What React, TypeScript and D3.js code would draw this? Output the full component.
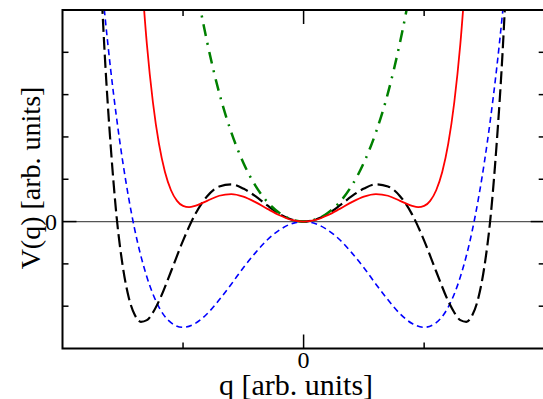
import React from "react";
import * as d3 from "d3";

// Potential curves (q in arb. units, V in arb. units)
const qBlack = [-1.7, -1.65, -1.6, -1.55, -1.5, -1.45, -1.4, -1.35, -1.3, -1.25, -1.2, -1.1, -1.0, -0.9, -0.8, -0.7, -0.6, -0.5, -0.4, -0.3, -0.2, -0.1, 0,
  0.1, 0.2, 0.3, 0.4, 0.5, 0.6, 0.7, 0.8, 0.9, 1.0, 1.1, 1.2, 1.25, 1.3, 1.35, 1.4, 1.45, 1.5, 1.55, 1.6, 1.65, 1.7];
const vBlack = [6.92, 3.97, 1.78, 0.08, -1.06, -1.8, -2.21, -2.37, -2.33, -2.15, -1.88, -1.18, -0.45, 0.17, 0.6, 0.83, 0.88, 0.78, 0.6, 0.38, 0.18, 0.05, 0,
  0.05, 0.18, 0.38, 0.6, 0.78, 0.88, 0.83, 0.6, 0.17, -0.45, -1.18, -1.88, -2.15, -2.33, -2.37, -2.21, -1.8, -1.06, 0.08, 1.78, 3.97, 6.92];

const qBlue = [-1.7, -1.65, -1.6, -1.55, -1.5, -1.45, -1.4, -1.3, -1.2, -1.1, -1.0, -0.9, -0.8, -0.7, -0.6, -0.5, -0.4, -0.3, -0.2, -0.1, 0,
  0.1, 0.2, 0.3, 0.4, 0.5, 0.6, 0.7, 0.8, 0.9, 1.0, 1.1, 1.2, 1.3, 1.4, 1.45, 1.5, 1.55, 1.6, 1.65, 1.7];
const vBlue = [6.43, 4.92, 3.58, 2.42, 1.41, 0.54, -0.2, -1.31, -2.02, -2.39, -2.5, -2.41, -2.18, -1.85, -1.48, -1.09, -0.74, -0.43, -0.2, -0.05, 0,
  -0.05, -0.2, -0.43, -0.74, -1.09, -1.48, -1.85, -2.18, -2.41, -2.5, -2.39, -2.02, -1.31, -0.2, 0.54, 1.41, 2.42, 3.58, 4.92, 6.43];

const qRed = [-1.35, -1.3, -1.25, -1.2, -1.15, -1.1, -1.05, -1.0, -0.95, -0.9, -0.8, -0.7, -0.6, -0.5, -0.4, -0.3, -0.2, -0.1, 0,
  0.1, 0.2, 0.3, 0.4, 0.5, 0.6, 0.7, 0.8, 0.9, 0.95, 1.0, 1.05, 1.1, 1.15, 1.2, 1.25, 1.3, 1.35];
const vRed = [6.05, 4.19, 2.82, 1.84, 1.17, 0.74, 0.49, 0.37, 0.34, 0.37, 0.49, 0.61, 0.65, 0.59, 0.46, 0.3, 0.15, 0.04, 0,
  0.04, 0.15, 0.3, 0.46, 0.59, 0.65, 0.61, 0.49, 0.37, 0.34, 0.37, 0.49, 0.74, 1.17, 1.84, 2.82, 4.19, 6.05];

const qGreen = [-0.95, -0.9, -0.85, -0.8, -0.7, -0.6, -0.5, -0.4, -0.3, -0.2, -0.1, 0,
  0.1, 0.2, 0.3, 0.4, 0.5, 0.6, 0.7, 0.8, 0.85, 0.9, 0.95];
const vGreen = [6.62, 5.74, 4.94, 4.24, 3.04, 2.11, 1.39, 0.85, 0.46, 0.2, 0.05, 0,
  0.05, 0.2, 0.46, 0.85, 1.39, 2.11, 3.04, 4.24, 4.94, 5.74, 6.62];

const xMinorTicks = [-1, 1];
const yMinorTicks = [-2, -1, 1, 2, 3, 4];
const xLabel = "q [arb. units]";
const yLabel = "V(q) [arb. units]";

const W = 543;
const H = 399;
const L = 62.5;
const R = 544.7;
const T = 10;
const B = 348.5;

const SERIF = "Liberation Serif";

export default function App() {
  const x = d3.scaleLinear().domain([-2, 2]).range([L, R]);
  const y = d3.scaleLinear().domain([-3, 5]).range([B, T]);

  const mk = (qs: number[], vs: number[]) =>
    d3
      .line<number>()
      .x((_, i) => x(qs[i]))
      .y((v) => y(v))
      .curve(d3.curveMonotoneX)(vs) || "";

  return (
    <svg
      width={W}
      height={H}
      style={{ position: "absolute", left: 0, top: 0, display: "block", background: "#fff" }}
    >
      <defs>
        <clipPath id="plotclip">
          <rect x={L} y={T} width={R - L} height={B - T} />
        </clipPath>
      </defs>

      {/* zero line */}
      <line x1={L} x2={R} y1={y(0)} y2={y(0)} stroke="#555" strokeWidth={1.3} />

      <g clipPath="url(#plotclip)" fill="none">
        <path d={mk(qBlue, vBlue)} stroke="#0000ff" strokeWidth={1.6} strokeDasharray="6,4" />
        <path d={mk(qBlack, vBlack)} stroke="#000" strokeWidth={2.2} strokeDasharray="13,5" />
        <path d={mk(qGreen, vGreen)} stroke="#008000" strokeWidth={2.5} strokeDasharray="12,7,2,7" />
        <path d={mk(qRed, vRed)} stroke="#ff0000" strokeWidth={1.8} />
      </g>

      {/* ticks */}
      <g stroke="#000" strokeWidth={1.5}>
        {yMinorTicks.map((t) => (
          <g key={"y" + t}>
            <line x1={L} x2={L + 6} y1={y(t)} y2={y(t)} />
            <line x1={R - 6} x2={R} y1={y(t)} y2={y(t)} />
          </g>
        ))}
        {xMinorTicks.map((t) => (
          <g key={"x" + t}>
            <line x1={x(t)} x2={x(t)} y1={T} y2={T + 6} />
            <line x1={x(t)} x2={x(t)} y1={B} y2={B - 6} />
          </g>
        ))}
        <line x1={L} x2={L + 14} y1={y(0)} y2={y(0)} />
        <line x1={R - 14} x2={R} y1={y(0)} y2={y(0)} />
        <line x1={x(0)} x2={x(0)} y1={T} y2={T + 14} />
        <line x1={x(0)} x2={x(0)} y1={B} y2={B - 14} />
      </g>

      {/* frame */}
      <rect x={L} y={T} width={R - L} height={B - T} fill="none" stroke="#000" strokeWidth={2} />

      {/* tick labels */}
      <text x={57} y={y(0) + 8} textAnchor="end" fontFamily={SERIF} fontSize={24}>0</text>
      <text x={x(0)} y={368} textAnchor="middle" fontFamily={SERIF} fontSize={24}>0</text>

      {/* axis labels */}
      <text x={296} y={395} textAnchor="middle" fontFamily={SERIF} fontSize={30}>{xLabel}</text>
      <text
        transform={`translate(40,178) rotate(-90)`}
        textAnchor="middle"
        fontFamily={SERIF}
        fontSize={28}
      >
        {yLabel}
      </text>
    </svg>
  );
}
